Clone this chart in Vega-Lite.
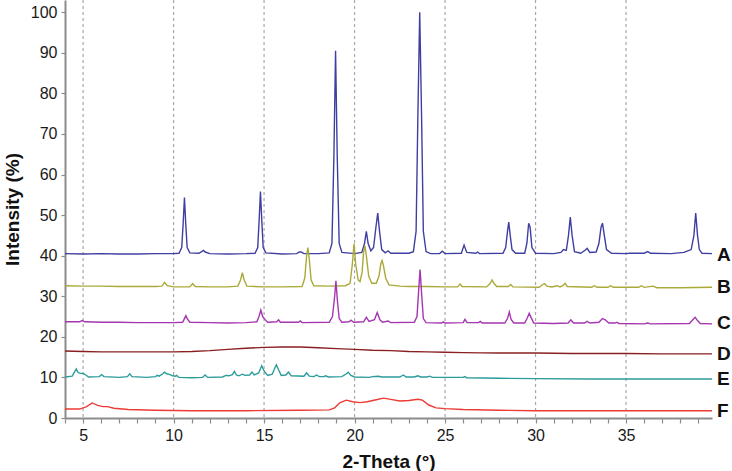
{
  "$schema": "https://vega.github.io/schema/vega-lite/v6.json",
  "width": 647,
  "height": 418,
  "autosize": {"type": "none"},
  "padding": {"left": 65, "top": 0, "right": 20, "bottom": 53},
  "background": "white",
  "config": {"view": {"stroke": null}, "font": "Liberation Sans", "axis": {"labelOverlap": false}},
  "datasets": {
    "grid": [{"x": 5}, {"x": 10}, {"x": 15}, {"x": 20}, {"x": 25}, {"x": 30}, {"x": 35}],
    "labels": [
      {"s": "A", "x": 39.75, "y": 40.2},
      {"s": "B", "x": 39.75, "y": 32.4},
      {"s": "C", "x": 39.75, "y": 23.3},
      {"s": "D", "x": 39.75, "y": 15.7},
      {"s": "E", "x": 39.75, "y": 9.5},
      {"s": "F", "x": 39.75, "y": 1.8}
    ],
    "xrd": [
      {"s":"A","x":4.0,"y":40.5},{"s":"A","x":5.0,"y":40.4},{"s":"A","x":6.0,"y":40.5},{"s":"A","x":7.0,"y":40.4},{"s":"A","x":8.0,"y":40.4},{"s":"A","x":9.0,"y":40.5},{"s":"A","x":10.0,"y":40.5},
      {"s":"A","x":10.3,"y":40.6},{"s":"A","x":10.45,"y":42.0},{"s":"A","x":10.53,"y":48},{"s":"A","x":10.6,"y":54.3},{"s":"A","x":10.67,"y":48},{"s":"A","x":10.75,"y":42},{"s":"A","x":10.9,"y":40.7},
      {"s":"A","x":11.4,"y":40.6},{"s":"A","x":11.55,"y":41.0},{"s":"A","x":11.65,"y":41.3},{"s":"A","x":11.75,"y":40.9},{"s":"A","x":12.0,"y":40.5},{"s":"A","x":13.0,"y":40.4},{"s":"A","x":14.0,"y":40.5},
      {"s":"A","x":14.5,"y":40.6},{"s":"A","x":14.65,"y":42},{"s":"A","x":14.73,"y":49},{"s":"A","x":14.8,"y":55.8},{"s":"A","x":14.87,"y":49},{"s":"A","x":14.95,"y":42},{"s":"A","x":15.1,"y":40.7},
      {"s":"A","x":16.0,"y":40.4},{"s":"A","x":16.8,"y":40.5},{"s":"A","x":16.95,"y":40.9},{"s":"A","x":17.05,"y":40.9},{"s":"A","x":17.2,"y":40.5},{"s":"A","x":18.0,"y":40.5},
      {"s":"A","x":18.6,"y":40.7},{"s":"A","x":18.75,"y":43},{"s":"A","x":18.86,"y":65},{"s":"A","x":18.95,"y":90.5},{"s":"A","x":19.04,"y":65},{"s":"A","x":19.15,"y":43},{"s":"A","x":19.3,"y":40.8},
      {"s":"A","x":20.0,"y":40.5},{"s":"A","x":20.4,"y":40.8},{"s":"A","x":20.55,"y":43},{"s":"A","x":20.65,"y":46.0},{"s":"A","x":20.75,"y":43},{"s":"A","x":20.9,"y":41.2},
      {"s":"A","x":21.05,"y":42},{"s":"A","x":21.18,"y":47},{"s":"A","x":21.28,"y":50.5},{"s":"A","x":21.38,"y":46},{"s":"A","x":21.5,"y":41.5},{"s":"A","x":21.7,"y":40.7},{"s":"A","x":21.85,"y":41.2},{"s":"A","x":22.0,"y":40.6},
      {"s":"A","x":23.0,"y":40.6},{"s":"A","x":23.25,"y":41},{"s":"A","x":23.4,"y":46},{"s":"A","x":23.5,"y":75},{"s":"A","x":23.6,"y":100},{"s":"A","x":23.7,"y":75},{"s":"A","x":23.8,"y":46},{"s":"A","x":23.95,"y":41},
      {"s":"A","x":24.2,"y":40.5},{"s":"A","x":24.7,"y":40.5},{"s":"A","x":24.85,"y":41.1},{"s":"A","x":25.0,"y":40.5},{"s":"A","x":25.9,"y":40.6},{"s":"A","x":26.05,"y":42.6},{"s":"A","x":26.2,"y":40.8},
      {"s":"A","x":26.7,"y":40.6},{"s":"A","x":26.8,"y":40.9},{"s":"A","x":26.9,"y":40.5},
      {"s":"A","x":28.2,"y":40.6},{"s":"A","x":28.35,"y":42},{"s":"A","x":28.45,"y":46},{"s":"A","x":28.52,"y":48.3},{"s":"A","x":28.6,"y":45},{"s":"A","x":28.7,"y":41.5},{"s":"A","x":28.9,"y":40.6},
      {"s":"A","x":29.4,"y":40.6},{"s":"A","x":29.52,"y":43},{"s":"A","x":29.62,"y":48},{"s":"A","x":29.7,"y":47},{"s":"A","x":29.8,"y":42},{"s":"A","x":30.0,"y":40.6},
      {"s":"A","x":31.0,"y":40.5},{"s":"A","x":31.4,"y":40.8},{"s":"A","x":31.55,"y":41.5},{"s":"A","x":31.7,"y":41.3},{"s":"A","x":31.82,"y":45},{"s":"A","x":31.92,"y":49.5},{"s":"A","x":32.02,"y":45},{"s":"A","x":32.15,"y":41},
      {"s":"A","x":32.5,"y":40.6},{"s":"A","x":32.75,"y":41.4},{"s":"A","x":32.85,"y":41.8},{"s":"A","x":33.0,"y":40.8},
      {"s":"A","x":33.35,"y":40.9},{"s":"A","x":33.5,"y":43},{"s":"A","x":33.62,"y":47},{"s":"A","x":33.7,"y":48},{"s":"A","x":33.8,"y":45},{"s":"A","x":33.92,"y":41.5},{"s":"A","x":34.2,"y":40.6},
      {"s":"A","x":35.0,"y":40.5},{"s":"A","x":35.2,"y":40.6},{"s":"A","x":36.0,"y":40.6},{"s":"A","x":36.2,"y":41.0},{"s":"A","x":36.35,"y":40.6},{"s":"A","x":37.5,"y":40.5},
      {"s":"A","x":38.2,"y":40.8},{"s":"A","x":38.3,"y":41.0},{"s":"A","x":38.6,"y":41.5},{"s":"A","x":38.75,"y":45},{"s":"A","x":38.85,"y":50.5},{"s":"A","x":38.95,"y":45},{"s":"A","x":39.05,"y":41.5},{"s":"A","x":39.2,"y":40.6},{"s":"A","x":39.75,"y":40.5},

      {"s":"B","x":4.0,"y":32.6},{"s":"B","x":5.0,"y":32.5},{"s":"B","x":6.0,"y":32.5},{"s":"B","x":7.0,"y":32.4},{"s":"B","x":8.0,"y":32.4},{"s":"B","x":9.0,"y":32.4},
      {"s":"B","x":9.35,"y":32.5},{"s":"B","x":9.5,"y":33.4},{"s":"B","x":9.65,"y":32.6},{"s":"B","x":10.0,"y":32.3},{"s":"B","x":10.9,"y":32.3},{"s":"B","x":11.05,"y":33.1},{"s":"B","x":11.2,"y":32.4},
      {"s":"B","x":12.0,"y":32.3},{"s":"B","x":13.0,"y":32.3},{"s":"B","x":13.55,"y":32.5},{"s":"B","x":13.7,"y":34},{"s":"B","x":13.8,"y":35.8},{"s":"B","x":13.9,"y":34},{"s":"B","x":14.05,"y":32.5},
      {"s":"B","x":15.0,"y":32.3},{"s":"B","x":16.0,"y":32.3},{"s":"B","x":17.1,"y":32.4},{"s":"B","x":17.25,"y":34.5},{"s":"B","x":17.35,"y":40},{"s":"B","x":17.42,"y":42.0},{"s":"B","x":17.5,"y":39},{"s":"B","x":17.6,"y":34},{"s":"B","x":17.75,"y":32.6},
      {"s":"B","x":18.5,"y":32.5},{"s":"B","x":19.5,"y":32.6},{"s":"B","x":19.75,"y":33.2},{"s":"B","x":19.88,"y":38},{"s":"B","x":19.97,"y":43.0},{"s":"B","x":20.06,"y":38},{"s":"B","x":20.2,"y":34},{"s":"B","x":20.3,"y":33.6},
      {"s":"B","x":20.42,"y":36},{"s":"B","x":20.5,"y":41},{"s":"B","x":20.57,"y":42.4},{"s":"B","x":20.65,"y":40},{"s":"B","x":20.78,"y":35},{"s":"B","x":20.95,"y":33.2},
      {"s":"B","x":21.2,"y":33.2},{"s":"B","x":21.35,"y":35},{"s":"B","x":21.45,"y":38},{"s":"B","x":21.52,"y":38.8},{"s":"B","x":21.6,"y":37.5},{"s":"B","x":21.72,"y":34.5},{"s":"B","x":21.9,"y":32.8},
      {"s":"B","x":22.5,"y":32.5},{"s":"B","x":23.0,"y":32.4},{"s":"B","x":24.0,"y":32.4},{"s":"B","x":25.0,"y":32.3},{"s":"B","x":25.7,"y":32.3},{"s":"B","x":25.83,"y":33.0},{"s":"B","x":25.95,"y":32.4},
      {"s":"B","x":27.3,"y":32.3},{"s":"B","x":27.5,"y":33.2},{"s":"B","x":27.6,"y":34.0},{"s":"B","x":27.7,"y":33.2},{"s":"B","x":27.85,"y":32.4},{"s":"B","x":28.5,"y":32.4},{"s":"B","x":28.63,"y":32.9},{"s":"B","x":28.75,"y":32.3},
      {"s":"B","x":30.2,"y":32.2},{"s":"B","x":30.4,"y":32.9},{"s":"B","x":30.5,"y":33.1},{"s":"B","x":30.62,"y":32.5},{"s":"B","x":30.9,"y":32.3},{"s":"B","x":31.2,"y":32.6},{"s":"B","x":31.35,"y":32.3},
      {"s":"B","x":31.5,"y":32.6},{"s":"B","x":31.63,"y":33.2},{"s":"B","x":31.75,"y":32.4},{"s":"B","x":33.1,"y":32.2},{"s":"B","x":33.25,"y":32.6},{"s":"B","x":33.4,"y":32.2},
      {"s":"B","x":34.0,"y":32.2},{"s":"B","x":34.15,"y":32.6},{"s":"B","x":34.3,"y":32.2},{"s":"B","x":35.7,"y":32.2},{"s":"B","x":35.85,"y":32.6},{"s":"B","x":36.0,"y":32.2},{"s":"B","x":36.5,"y":32.5},{"s":"B","x":36.7,"y":32.1},
      {"s":"B","x":38.0,"y":32.1},{"s":"B","x":39.75,"y":32.2},

      {"s":"C","x":4.0,"y":23.7},{"s":"C","x":4.8,"y":23.7},{"s":"C","x":4.95,"y":24.0},{"s":"C","x":5.1,"y":23.7},{"s":"C","x":6.0,"y":23.6},{"s":"C","x":7.0,"y":23.6},{"s":"C","x":8.0,"y":23.5},{"s":"C","x":9.0,"y":23.5},{"s":"C","x":10.0,"y":23.5},
      {"s":"C","x":10.5,"y":23.6},{"s":"C","x":10.6,"y":24.5},{"s":"C","x":10.68,"y":25.2},{"s":"C","x":10.76,"y":24.4},{"s":"C","x":10.9,"y":23.6},{"s":"C","x":12.0,"y":23.5},{"s":"C","x":13.0,"y":23.4},{"s":"C","x":14.0,"y":23.5},
      {"s":"C","x":14.6,"y":23.7},{"s":"C","x":14.72,"y":25},{"s":"C","x":14.82,"y":26.6},{"s":"C","x":14.92,"y":25},{"s":"C","x":15.05,"y":24.3},{"s":"C","x":15.2,"y":23.6},
      {"s":"C","x":15.7,"y":23.7},{"s":"C","x":15.8,"y":24.2},{"s":"C","x":15.9,"y":23.6},{"s":"C","x":16.9,"y":23.6},{"s":"C","x":17.0,"y":23.9},{"s":"C","x":17.1,"y":23.5},
      {"s":"C","x":18.6,"y":23.6},{"s":"C","x":18.78,"y":25},{"s":"C","x":18.9,"y":30},{"s":"C","x":18.97,"y":33.8},{"s":"C","x":19.05,"y":29},{"s":"C","x":19.15,"y":24.5},{"s":"C","x":19.3,"y":23.6},
      {"s":"C","x":19.7,"y":23.7},{"s":"C","x":19.8,"y":24.1},{"s":"C","x":19.95,"y":23.6},{"s":"C","x":20.5,"y":23.7},{"s":"C","x":20.65,"y":24.8},{"s":"C","x":20.8,"y":23.8},
      {"s":"C","x":21.1,"y":24.2},{"s":"C","x":21.25,"y":26.0},{"s":"C","x":21.4,"y":24.2},{"s":"C","x":21.55,"y":23.6},{"s":"C","x":21.85,"y":23.9},{"s":"C","x":22.0,"y":23.5},
      {"s":"C","x":23.3,"y":23.6},{"s":"C","x":23.45,"y":25},{"s":"C","x":23.55,"y":32},{"s":"C","x":23.62,"y":36.6},{"s":"C","x":23.7,"y":31},{"s":"C","x":23.8,"y":24.5},{"s":"C","x":23.95,"y":23.5},
      {"s":"C","x":24.8,"y":23.4},{"s":"C","x":24.9,"y":23.7},{"s":"C","x":25.0,"y":23.4},{"s":"C","x":26.0,"y":23.5},{"s":"C","x":26.1,"y":24.3},{"s":"C","x":26.22,"y":23.5},{"s":"C","x":26.85,"y":23.5},{"s":"C","x":26.95,"y":23.8},{"s":"C","x":27.05,"y":23.4},
      {"s":"C","x":28.3,"y":23.4},{"s":"C","x":28.45,"y":24.5},{"s":"C","x":28.55,"y":26.1},{"s":"C","x":28.65,"y":24.3},{"s":"C","x":28.8,"y":23.4},
      {"s":"C","x":29.4,"y":23.4},{"s":"C","x":29.55,"y":24.7},{"s":"C","x":29.65,"y":25.8},{"s":"C","x":29.75,"y":24.8},{"s":"C","x":29.9,"y":23.4},
      {"s":"C","x":31.0,"y":23.3},{"s":"C","x":31.8,"y":23.4},{"s":"C","x":31.95,"y":24.2},{"s":"C","x":32.1,"y":23.4},{"s":"C","x":32.7,"y":23.4},{"s":"C","x":32.85,"y":23.8},{"s":"C","x":33.0,"y":23.4},
      {"s":"C","x":33.5,"y":23.6},{"s":"C","x":33.7,"y":24.5},{"s":"C","x":33.85,"y":24.2},{"s":"C","x":34.05,"y":23.4},{"s":"C","x":34.4,"y":23.4},{"s":"C","x":34.5,"y":23.6},{"s":"C","x":34.6,"y":23.3},
      {"s":"C","x":36.0,"y":23.2},{"s":"C","x":36.2,"y":23.4},{"s":"C","x":36.35,"y":23.2},{"s":"C","x":38.5,"y":23.3},{"s":"C","x":38.65,"y":24},{"s":"C","x":38.82,"y":24.8},{"s":"C","x":38.95,"y":24},{"s":"C","x":39.1,"y":23.3},{"s":"C","x":39.75,"y":23.2},

      {"s":"D","x":4,"y":16.5},{"s":"D","x":5,"y":16.4},{"s":"D","x":6,"y":16.3},{"s":"D","x":7,"y":16.3},{"s":"D","x":8,"y":16.3},{"s":"D","x":9,"y":16.3},{"s":"D","x":10,"y":16.3},{"s":"D","x":11,"y":16.4},{"s":"D","x":12,"y":16.6},
      {"s":"D","x":13,"y":16.9},{"s":"D","x":14,"y":17.2},{"s":"D","x":15,"y":17.4},{"s":"D","x":16,"y":17.5},{"s":"D","x":17,"y":17.5},{"s":"D","x":18,"y":17.3},{"s":"D","x":19,"y":17.1},{"s":"D","x":20,"y":16.9},
      {"s":"D","x":21,"y":16.7},{"s":"D","x":22,"y":16.6},{"s":"D","x":23,"y":16.4},{"s":"D","x":24,"y":16.3},{"s":"D","x":25,"y":16.2},{"s":"D","x":26,"y":16.1},{"s":"D","x":27,"y":16.05},{"s":"D","x":28,"y":16.0},
      {"s":"D","x":30,"y":16.0},{"s":"D","x":32,"y":15.9},{"s":"D","x":35,"y":15.9},{"s":"D","x":37,"y":15.8},{"s":"D","x":39.75,"y":15.8},

      {"s":"E","x":4.0,"y":10.1},{"s":"E","x":4.4,"y":10.3},{"s":"E","x":4.52,"y":11.3},{"s":"E","x":4.62,"y":12.1},{"s":"E","x":4.72,"y":11.2},{"s":"E","x":4.85,"y":11.0},{"s":"E","x":5.0,"y":11.0},{"s":"E","x":5.15,"y":10.6},{"s":"E","x":5.3,"y":10.1},
      {"s":"E","x":5.9,"y":10.2},{"s":"E","x":6.02,"y":10.7},{"s":"E","x":6.15,"y":10.2},{"s":"E","x":7.0,"y":10.0},{"s":"E","x":7.45,"y":10.2},{"s":"E","x":7.58,"y":10.9},{"s":"E","x":7.7,"y":10.2},
      {"s":"E","x":8.5,"y":10.0},{"s":"E","x":9.0,"y":10.2},{"s":"E","x":9.1,"y":10.5},{"s":"E","x":9.2,"y":10.3},{"s":"E","x":9.4,"y":10.9},{"s":"E","x":9.5,"y":11.3},{"s":"E","x":9.62,"y":10.9},{"s":"E","x":9.8,"y":10.7},
      {"s":"E","x":9.95,"y":10.4},{"s":"E","x":10.1,"y":10.3},{"s":"E","x":10.17,"y":10.5},{"s":"E","x":10.3,"y":10.0},{"s":"E","x":11.0,"y":9.9},{"s":"E","x":11.6,"y":10.0},{"s":"E","x":11.74,"y":10.6},{"s":"E","x":11.88,"y":10.0},
      {"s":"E","x":12.7,"y":10.1},{"s":"E","x":12.9,"y":10.5},{"s":"E","x":13.05,"y":10.4},{"s":"E","x":13.25,"y":10.7},{"s":"E","x":13.36,"y":11.5},{"s":"E","x":13.47,"y":10.6},{"s":"E","x":13.6,"y":10.4},
      {"s":"E","x":13.8,"y":10.8},{"s":"E","x":13.95,"y":10.5},{"s":"E","x":14.2,"y":10.6},{"s":"E","x":14.33,"y":11.3},{"s":"E","x":14.45,"y":10.6},{"s":"E","x":14.7,"y":11.1},{"s":"E","x":14.87,"y":12.9},{"s":"E","x":15.0,"y":11.6},
      {"s":"E","x":15.2,"y":10.5},{"s":"E","x":15.45,"y":10.8},{"s":"E","x":15.6,"y":12.4},{"s":"E","x":15.68,"y":13.1},{"s":"E","x":15.8,"y":11.9},{"s":"E","x":15.95,"y":10.5},
      {"s":"E","x":16.2,"y":10.6},{"s":"E","x":16.35,"y":11.3},{"s":"E","x":16.5,"y":10.4},{"s":"E","x":17.2,"y":10.3},{"s":"E","x":17.35,"y":11.1},{"s":"E","x":17.5,"y":10.3},{"s":"E","x":17.75,"y":10.2},{"s":"E","x":17.9,"y":10.6},{"s":"E","x":18.05,"y":10.2},
      {"s":"E","x":18.3,"y":10.2},{"s":"E","x":18.4,"y":10.4},{"s":"E","x":18.55,"y":10.1},{"s":"E","x":19.3,"y":10.2},{"s":"E","x":19.55,"y":10.9},{"s":"E","x":19.65,"y":11.3},{"s":"E","x":19.8,"y":10.5},{"s":"E","x":20.0,"y":10.1},
      {"s":"E","x":20.8,"y":10.0},{"s":"E","x":21.0,"y":10.2},{"s":"E","x":21.3,"y":10.3},{"s":"E","x":21.5,"y":10.1},{"s":"E","x":22.5,"y":10.1},{"s":"E","x":22.7,"y":10.6},{"s":"E","x":22.85,"y":10.1},
      {"s":"E","x":23.3,"y":10.1},{"s":"E","x":23.5,"y":10.4},{"s":"E","x":23.65,"y":10.1},{"s":"E","x":24.0,"y":10.1},{"s":"E","x":24.15,"y":10.3},{"s":"E","x":24.3,"y":10.0},{"s":"E","x":26.0,"y":10.0},{"s":"E","x":26.1,"y":10.2},{"s":"E","x":26.2,"y":9.9},
      {"s":"E","x":28.0,"y":9.8},{"s":"E","x":30.0,"y":9.7},{"s":"E","x":33.0,"y":9.6},{"s":"E","x":36.0,"y":9.6},{"s":"E","x":39.75,"y":9.6},

      {"s":"F","x":4.0,"y":2.2},{"s":"F","x":4.8,"y":2.2},{"s":"F","x":5.2,"y":2.8},{"s":"F","x":5.5,"y":3.7},{"s":"F","x":5.8,"y":3.1},{"s":"F","x":6.1,"y":2.8},{"s":"F","x":6.35,"y":2.8},{"s":"F","x":6.7,"y":2.4},
      {"s":"F","x":7.5,"y":2.1},{"s":"F","x":9.0,"y":1.9},{"s":"F","x":11.0,"y":1.8},{"s":"F","x":14.0,"y":1.8},{"s":"F","x":17.0,"y":1.9},{"s":"F","x":18.6,"y":2.0},{"s":"F","x":18.9,"y":2.5},
      {"s":"F","x":19.2,"y":3.8},{"s":"F","x":19.55,"y":4.4},{"s":"F","x":19.9,"y":4.0},{"s":"F","x":20.3,"y":3.8},{"s":"F","x":20.7,"y":4.0},{"s":"F","x":21.2,"y":4.5},{"s":"F","x":21.6,"y":4.9},{"s":"F","x":22.0,"y":4.6},
      {"s":"F","x":22.5,"y":4.2},{"s":"F","x":23.0,"y":4.3},{"s":"F","x":23.5,"y":4.6},{"s":"F","x":23.75,"y":4.4},{"s":"F","x":24.1,"y":3.2},{"s":"F","x":24.5,"y":2.5},{"s":"F","x":25.0,"y":2.3},
      {"s":"F","x":26.0,"y":2.1},{"s":"F","x":28.0,"y":1.9},{"s":"F","x":30.0,"y":1.8},{"s":"F","x":35.0,"y":1.8},{"s":"F","x":39.75,"y":1.8}
    ]
  },
  "encoding": {
    "x": {
      "field": "x", "type": "quantitative",
      "scale": {"domain": [4, 39.75], "nice": false, "zero": false},
      "axis": {
        "title": "2-Theta (°)",
        "values": [4,5,6,7,8,9,10,11,12,13,14,15,16,17,18,19,20,21,22,23,24,25,26,27,28,29,30,31,32,33,34,35,36,37,38,39],
        "labelExpr": "datum.value % 5 === 0 ? datum.label : ''",
        "labelOverlap": false,
        "labelBound": false,
        "labelFlush": false,
        "grid": false,
        "domainColor": "#8c8c8c", "domainWidth": 2,
        "tickColor": "#8c8c8c", "tickSize": 5, "tickWidth": 1.2,
        "labelFontSize": 16, "labelColor": "#1a1a1a", "labelPadding": 4, "labelFont": "Liberation Sans",
        "titleFontSize": 19, "titleFontWeight": "bold", "titleColor": "#111111", "titlePadding": 9, "titleFont": "Liberation Sans"
      }
    }
  },
  "layer": [
    {
      "data": {"name": "grid"},
      "mark": {"type": "rule", "color": "#a8a8a8", "strokeDash": [3, 3], "strokeWidth": 1.2},
      "encoding": {}
    },
    {
      "data": {"name": "xrd"},
      "mark": {"type": "line", "strokeWidth": 1.4, "interpolate": "linear"},
      "encoding": {
        "y": {
          "field": "y", "type": "quantitative",
          "scale": {"domain": [0, 103], "nice": false, "zero": true},
          "axis": {
            "title": "Intensity (%)",
            "values": [0,10,20,30,40,50,60,70,80,90,100],
            "labelOverlap": false,
            "grid": false,
            "domainColor": "#8c8c8c", "domainWidth": 2,
            "tickColor": "#8c8c8c", "tickSize": 4, "tickWidth": 1.2,
            "labelFontSize": 16, "labelColor": "#1a1a1a", "labelPadding": 4, "labelFont": "Liberation Sans",
            "titleFontSize": 19, "titleFontWeight": "bold", "titleColor": "#111111", "titlePadding": 8, "titleFont": "Liberation Sans"
          }
        },
        "color": {
          "field": "s", "type": "nominal",
          "scale": {"domain": ["A","B","C","D","E","F"], "range": ["#3f3fa3","#aaaa3a","#a535b0","#8a1f22","#2c9b9b","#ee3a35"]},
          "legend": null
        },
        "detail": {"field": "s"}
      }
    },
    {
      "data": {"name": "labels"},
      "mark": {"type": "text", "align": "left", "baseline": "middle", "dx": 5, "fontSize": 19, "fontWeight": "bold", "color": "#111111", "font": "Liberation Sans", "clip": false},
      "encoding": {
        "y": {"field": "y", "type": "quantitative"},
        "text": {"field": "s"}
      }
    }
  ]
}
